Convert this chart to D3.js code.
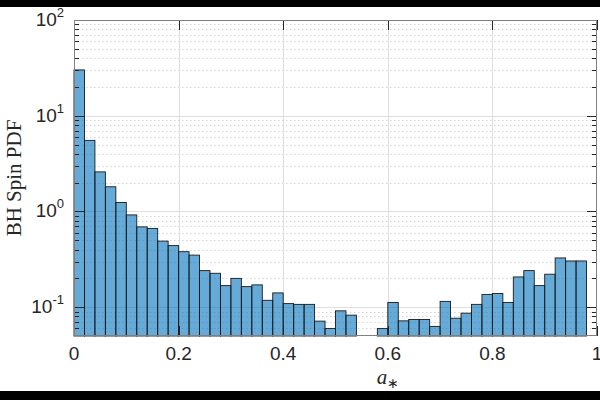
<!DOCTYPE html>
<html lang="en">
<head>
    <meta charset="UTF-8">
    <title>BH Spin PDF</title>
    <script src="https://cdnjs.cloudflare.com/ajax/libs/d3/7.8.5/d3.min.js"></script>
    <style>
        body { margin: 0; background: #fff; }
        svg { display: block; }
        .tick-label { font-family: "Liberation Sans", Arial, sans-serif; fill: #262626; }
    </style>
</head>
<body>
    <div id="chart"></div>

    <script>
        // histogram bin edges (a*) and the PDF height of each bin
        const binEdges = [0, 0.02, 0.04, 0.06, 0.08, 0.1, 0.12, 0.14, 0.16, 0.18,
            0.2, 0.22, 0.24, 0.26, 0.28, 0.3, 0.32, 0.34, 0.36, 0.38,
            0.4, 0.42, 0.44, 0.46, 0.48, 0.5, 0.52, 0.54, 0.56, 0.58,
            0.6, 0.62, 0.64, 0.66, 0.68, 0.7, 0.72, 0.74, 0.76, 0.78,
            0.8, 0.82, 0.84, 0.86, 0.88, 0.9, 0.92, 0.94, 0.96, 0.98, 1];
        const pdfValues = [30.1, 5.53, 2.59, 1.81, 1.24, 0.92, 0.69, 0.665, 0.49, 0.44,
            0.38, 0.35, 0.241, 0.226, 0.168, 0.2, 0.164, 0.171, 0.118, 0.141,
            0.109, 0.107, 0.107, 0.0715, 0.06, 0.0916, 0.0826, 0, 0, 0.06,
            0.112, 0.072, 0.0745, 0.0745, 0.063, 0.115, 0.0767, 0.0866, 0.107, 0.136,
            0.139, 0.112, 0.207, 0.241, 0.168, 0.221, 0.327, 0.304, 0.304, 0];

        const xTicks = [0, 0.2, 0.4, 0.6, 0.8, 1];
        const xTickLabels = ["0", "0.2", "0.4", "0.6", "0.8", "1"];
        const yDecades = [0.1, 1, 10, 100];
        const yExponents = ["-1", "0", "1", "2"];

        const config = {
            width: 600, height: 400,
            left: 74, right: 597, top: 20, bottom: 336
        };

        const svg = d3.select("#chart").append("svg")
            .attr("width", config.width)
            .attr("height", config.height);

        // letterbox bands
        svg.append("rect").attr("x", 0).attr("y", 0).attr("width", 600).attr("height", 7).attr("fill", "#000");
        svg.append("rect").attr("x", 0).attr("y", 391).attr("width", 600).attr("height", 9).attr("fill", "#000");

        const x = d3.scaleLinear().domain([0, 1]).range([config.left, config.right]);
        const y = d3.scaleLog().domain([0.05, 100]).range([config.bottom, config.top]);

        const allTicks = y.ticks();
        const minorTicks = allTicks.filter(v => !yDecades.some(d => Math.abs(d - v) < 1e-9) && v > 0.05 && v < 100);

        // grid (behind the translucent bars)
        const grid = svg.append("g");
        grid.selectAll(".ymin").data(minorTicks).join("line")
            .attr("x1", config.left).attr("x2", config.right)
            .attr("y1", d => Math.round(y(d)) + 0.5).attr("y2", d => Math.round(y(d)) + 0.5)
            .attr("stroke", "#d4d4d4").attr("stroke-width", 1)
            .attr("stroke-dasharray", "1.5,2.5");
        grid.selectAll(".ymaj").data(yDecades.slice(0, 3)).join("line")
            .attr("x1", config.left).attr("x2", config.right)
            .attr("y1", d => Math.round(y(d)) + 0.5).attr("y2", d => Math.round(y(d)) + 0.5)
            .attr("stroke", "#dfdfdf").attr("stroke-width", 1);
        grid.selectAll(".xmaj").data(xTicks.slice(1, -1)).join("line")
            .attr("x1", d => Math.round(x(d)) + 0.5).attr("x2", d => Math.round(x(d)) + 0.5)
            .attr("y1", config.top).attr("y2", config.bottom)
            .attr("stroke", "#dfdfdf").attr("stroke-width", 1);

        // bars
        const bins = pdfValues.map((v, i) => ({ x0: binEdges[i], x1: binEdges[i + 1], v }))
            .filter(d => d.v > 0);
        svg.append("g").selectAll("rect").data(bins).join("rect")
            .attr("x", d => x(d.x0))
            .attr("width", d => x(d.x1) - x(d.x0))
            .attr("y", d => y(d.v))
            .attr("height", d => config.bottom - y(d.v))
            .attr("fill", "#0072BD").attr("fill-opacity", 0.6)
            .attr("stroke", "#1a1a1a").attr("stroke-width", 0.9);

        // ticks (inward), mirrored on all four sides
        const tickColor = "#262626";
        const ticks = svg.append("g").attr("stroke", tickColor).attr("stroke-width", 1);
        yDecades.forEach(v => {
            const yy = Math.round(y(v)) + 0.5;
            ticks.append("line").attr("x1", config.left).attr("x2", config.left + 10).attr("y1", yy).attr("y2", yy);
            ticks.append("line").attr("x1", config.right).attr("x2", config.right - 10).attr("y1", yy).attr("y2", yy);
        });
        minorTicks.forEach(v => {
            const yy = Math.round(y(v)) + 0.5;
            ticks.append("line").attr("x1", config.left).attr("x2", config.left + 5).attr("y1", yy).attr("y2", yy);
            ticks.append("line").attr("x1", config.right).attr("x2", config.right - 5).attr("y1", yy).attr("y2", yy);
        });
        xTicks.forEach(v => {
            const xx = Math.round(x(v)) + 0.5;
            ticks.append("line").attr("x1", xx).attr("x2", xx).attr("y1", config.bottom).attr("y2", config.bottom - 10);
            ticks.append("line").attr("x1", xx).attr("x2", xx).attr("y1", config.top).attr("y2", config.top + 10);
        });

        // box
        svg.append("rect")
            .attr("x", config.left + 0.5).attr("y", config.top + 0.5)
            .attr("width", config.right - config.left - 1).attr("height", config.bottom - config.top - 1)
            .attr("fill", "none").attr("stroke", "#808080").attr("stroke-width", 1);

        // x tick labels
        svg.append("g").selectAll("text").data(xTicks).join("text")
            .attr("class", "tick-label")
            .attr("x", d => x(d))
            .attr("y", 360)
            .attr("text-anchor", "middle")
            .attr("font-size", 19)
            .text((d, i) => xTickLabels[i]);

        // y tick labels: 10^k
        const yLabels = svg.append("g").selectAll("text").data(yDecades).join("text")
            .attr("class", "tick-label")
            .attr("x", 64)
            .attr("y", d => y(d) + 6)
            .attr("text-anchor", "end")
            .attr("font-size", 19);
        yLabels.append("tspan").text("10");
        yLabels.append("tspan")
            .attr("font-size", 13)
            .attr("dy", -9)
            .text((d, i) => yExponents[i]);

        // axis titles
        svg.append("text")
            .attr("transform", `translate(21,${(config.top + config.bottom) / 2}) rotate(-90)`)
            .attr("text-anchor", "middle")
            .attr("font-family", "'Liberation Serif', 'Times New Roman', serif")
            .attr("font-size", 21)
            .attr("fill", "#262626")
            .text("BH Spin PDF");

        const xt = svg.append("text")
            .attr("x", 388)
            .attr("y", 384)
            .attr("text-anchor", "middle")
            .attr("font-family", "'Liberation Serif', 'Times New Roman', serif")
            .attr("font-size", 21)
            .attr("fill", "#262626");
        xt.append("tspan").attr("font-style", "italic").text("a");
        xt.append("tspan").attr("font-size", 14).attr("dy", 4).text("\u2217");
    </script>
</body>
</html>
